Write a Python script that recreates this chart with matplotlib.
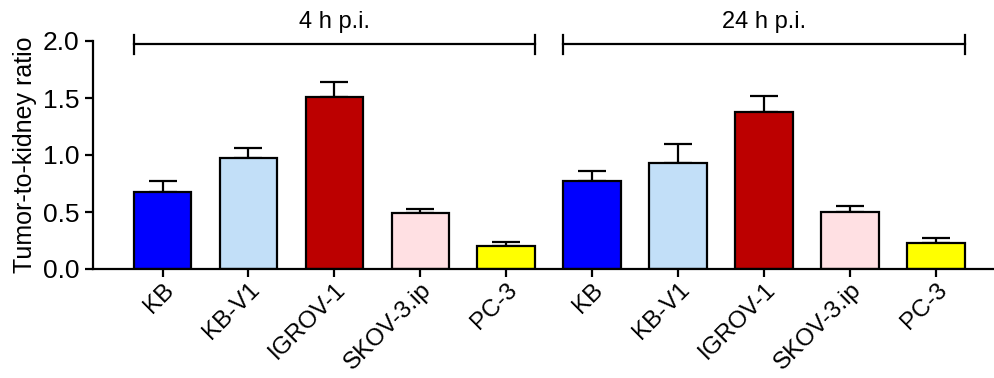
import matplotlib
matplotlib.use("Agg")
import matplotlib.pyplot as plt
import numpy as np

plt.rcParams["font.family"] = ["Liberation Sans", "DejaVu Sans"]

cell_lines = ["KB", "KB-V1", "IGROV-1", "SKOV-3.ip", "PC-3"]
groups = ["4 h p.i.", "24 h p.i."]
colors = ["#0000FF", "#C2DFF8", "#BC0000", "#FFE0E3", "#FFFF00"]

ratio_4h = [0.673, 0.976, 1.51, 0.49, 0.20]
sd_4h = [0.097, 0.088, 0.13, 0.036, 0.037]
ratio_24h = [0.772, 0.932, 1.38, 0.503, 0.231]
sd_24h = [0.09, 0.168, 0.137, 0.05, 0.039]

values = ratio_4h + ratio_24h
errors = sd_4h + sd_24h
labels = cell_lines * 2
bar_colors = colors * 2
x = np.arange(len(values))
width = 0.67

fig = plt.figure(figsize=(9.95, 3.78), dpi=100)
ax = fig.add_axes([93 / 995, 1 - 269 / 378, 902 / 995, 228 / 378])

ax.bar(x, values, width=width, color=bar_colors, edgecolor="black", linewidth=1.6, zorder=2)
ax.errorbar(x, values, yerr=[np.zeros(len(errors)), errors], fmt="none",
            ecolor="black", elinewidth=1.6, capsize=10, capthick=1.6, zorder=1)

ax.set_xlim(-0.81, 9.69)
ax.set_ylim(0, 2.0)
ax.set_yticks([0, 0.5, 1.0, 1.5, 2.0])
ax.set_yticklabels(["0.0", "0.5", "1.0", "1.5", "2.0"], fontsize=19)
ax.set_xticks(x)
ax.set_xticklabels(labels, rotation=45, ha="right", rotation_mode="anchor", fontsize=17.5)
ax.set_ylabel("Tumor-to-kidney ratio", fontsize=18, labelpad=4)

for side in ["top", "right"]:
    ax.spines[side].set_visible(False)
for side in ["left", "bottom"]:
    ax.spines[side].set_linewidth(1.6)
ax.tick_params(axis="both", direction="out", length=6, width=1.6, pad=4)
ax.tick_params(axis="x", pad=1)

# group brackets
yb = 1.97
for i, g in enumerate(groups):
    x0 = i * 5 - width / 2
    x1 = i * 5 + 4 + width / 2
    ax.plot([x0, x1], [yb, yb], color="black", lw=1.6, clip_on=False)
    for xx in (x0, x1):
        ax.plot([xx, xx], [yb - 0.085, yb + 0.085], color="black", lw=1.6, clip_on=False)
    ax.text((x0 + x1) / 2, yb + 0.1, g, ha="center", va="bottom", fontsize=17)

fig.savefig("out.png", dpi=100)
